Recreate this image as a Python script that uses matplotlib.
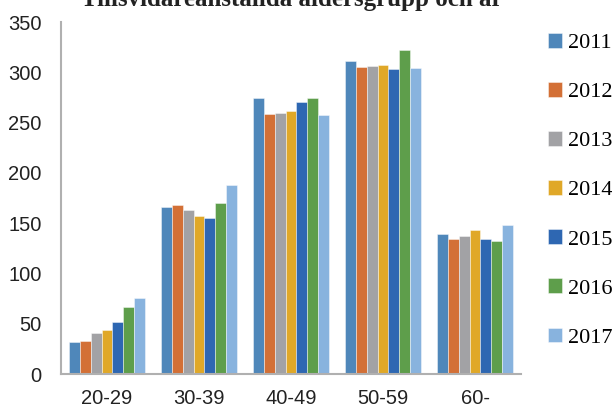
import matplotlib.pyplot as plt
import numpy as np

groups = ['20-29', '30-39', '40-49', '50-59', '60-']
years = ['2011', '2012', '2013', '2014', '2015', '2016', '2017']
v2011 = [32, 166, 274, 311, 139]
v2012 = [33, 168, 259, 305, 134]
v2013 = [41, 163, 260, 306, 137]
v2014 = [44, 157, 262, 307, 143]
v2015 = [52, 155, 270, 303, 134]
v2016 = [67, 170, 274, 322, 132]
v2017 = [76, 188, 258, 304, 148]
series = [v2011, v2012, v2013, v2014, v2015, v2016, v2017]
colors = ['#4F87BA', '#D37036', '#A2A2A5', '#E0A828', '#2E67B2', '#5E9E4B', '#88B3DE']

fig = plt.figure(figsize=(6.12, 4.09), dpi=100)
ax = fig.add_axes([61 / 612, 35 / 409, 460 / 612, 352 / 409])

x = np.arange(len(groups))
width = 0.826 / len(years)
for i, (vals, col, yr) in enumerate(zip(series, colors, years)):
    offs = (i - (len(years) - 1) / 2) * width
    ax.bar(x + offs, vals, width, color=col, label=yr,
           edgecolor=(1, 1, 1, 0.5), linewidth=0.6)

ax.set_xlim(-0.5, len(groups) - 0.5)
ax.set_ylim(0, 350)
ax.set_yticks(range(0, 351, 50))
ax.set_xticks(x)
ax.set_xticklabels(groups)
ax.tick_params(length=0, labelsize=14.5, colors='#222222')
ax.tick_params(axis='x', pad=11)
ax.tick_params(axis='y', pad=14)
for lab in ax.get_xticklabels() + ax.get_yticklabels():
    lab.set_family('Liberation Sans')

for s in ['top', 'right']:
    ax.spines[s].set_visible(False)
for s in ['left', 'bottom']:
    ax.spines[s].set_color('#B0B0B0')
    ax.spines[s].set_linewidth(1.5)

leg = fig.legend(loc='upper left', bbox_to_anchor=(539 / 612, 1 - 24 / 409),
                 frameon=False, prop={'family': 'Liberation Serif', 'size': 16},
                 handlelength=0.65, handleheight=0.65, handletextpad=0.25,
                 labelspacing=1.3, borderaxespad=0)

fig.text(292 / 612, 1 - 6 / 409, 'Tillsvidareanställda åldersgrupp och år',
         ha='center', va='baseline', family='Liberation Serif',
         fontweight='bold', fontsize=18, color='#222222')

fig.savefig('out.png', dpi=100)
